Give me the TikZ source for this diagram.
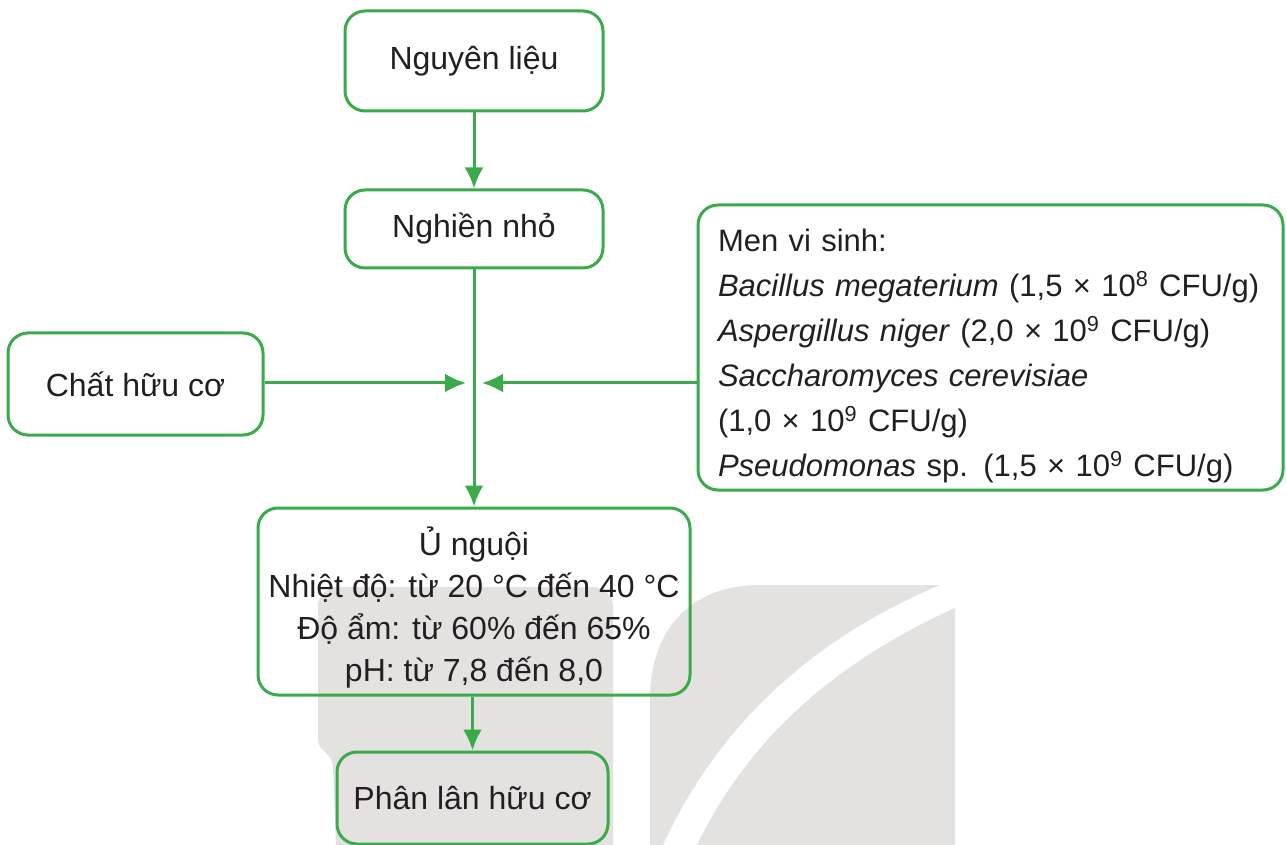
\documentclass[tikz,border=0pt]{standalone}
\usepackage{fontspec}
\setmainfont{Liberation Sans}
\usetikzlibrary{arrows.meta}

\definecolor{boxgreen}{RGB}{58,170,74}
\definecolor{txtgrey}{RGB}{35,31,32}
\definecolor{leafgrey}{RGB}{228,226,224}

\begin{document}
\begin{tikzpicture}[x=0.5pt,y=-0.5pt,
  stepbox/.style={draw=boxgreen, line width=1.5pt, rounded corners=10pt,
    text=txtgrey, font=\fontsize{16}{21}\selectfont, align=center, inner sep=0pt},
  flow/.style={draw=boxgreen, line width=1.5pt, -{Latex[length=10.5pt,width=9.5pt]}}]

  \useasboundingbox (0,0) rectangle (1286,845);

  % faint leaf in the background
  \fill[leafgrey] (318,602) [rounded corners=10pt] -- (318,587) -- (613,587)
    [sharp corners] -- (613,845) -- (336,845) -- (333,768) .. controls (333,752) and (318,752) .. (318,740) -- cycle;
  \fill[leafgrey] (650,845) -- (650,700) .. controls (650,630) and (690,585) .. (760,585)
    -- (940,585) .. controls (820,635) and (720,720) .. (663,845) -- cycle;
  \fill[leafgrey] (955,608) .. controls (840,660) and (750,735) .. (697,845) -- (955,845) -- cycle;

  % boxes
  \node[stepbox, minimum width=129pt, minimum height=50pt] (lieu) at (474,61) {Nguyên liệu};
  \node[stepbox, minimum width=129pt, minimum height=39pt] (nghien) at (474,229) {Nghiền nhỏ};
  \node[stepbox, minimum width=127.5pt, minimum height=51pt] (chat) at (135.5,384) {Chất hữu cơ};
  \node[stepbox, align=left, text width=272.5pt, inner xsep=10pt, minimum height=142.5pt,
    font=\fontsize{15.5}{22.5}\selectfont] (men) at (990.5,347.5)
    {\rule{0pt}{20pt}Men vi sinh:\\
     \textit{Bacillus megaterium} (1,5 × 10\textsuperscript{8} CFU/g)\\
     \textit{Aspergillus niger} (2,0 × 10\textsuperscript{9} CFU/g)\\
     \textit{Saccharomyces cerevisiae}\\
     (1,0 × 10\textsuperscript{9} CFU/g)\\
     \textit{Pseudomonas} sp. (1,5 × 10\textsuperscript{9} CFU/g)};
  \node[stepbox, minimum width=216pt, minimum height=93.5pt] (u) at (474,601.5)
    {\rule{0pt}{20.5pt}Ủ nguội\\
     Nhiệt độ: từ 20 °C đến 40 °C\\
     Độ ẩm: từ 60\% đến 65\%\\
     pH: từ 7,8 đến 8,0};
  \node[stepbox, minimum width=135.5pt, minimum height=46pt] (phan) at (472.5,798) {Phân lân hữu cơ};

  % arrows
  \coordinate (jl) at (466,383);
  \coordinate (jr) at (482,383);
  \draw[flow] (lieu) -- (nghien);
  \draw[flow] (nghien) -- (u);
  \draw[flow] (chat.east |- jl) -- (jl);
  \draw[flow] (men.west |- jr) -- (jr);
  \draw[flow] (u.south -| phan) -- (phan);

\end{tikzpicture}
\end{document}
